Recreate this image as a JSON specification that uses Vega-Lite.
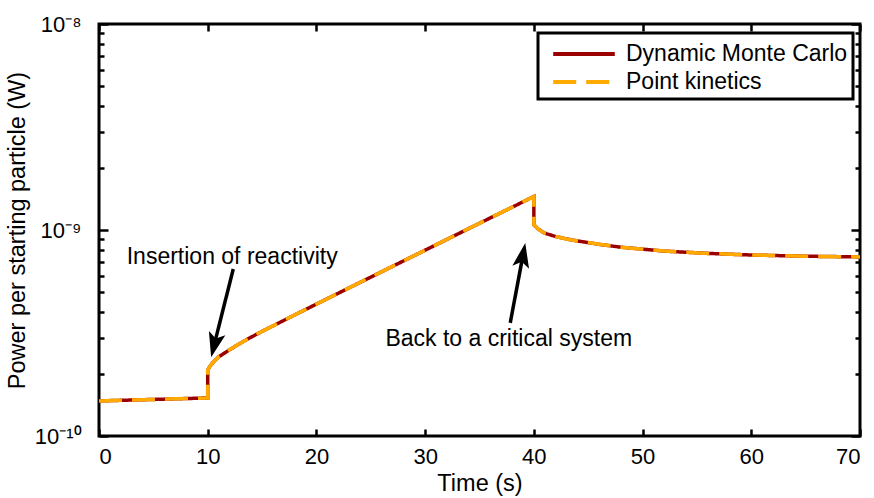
{
  "$schema": "https://vega.github.io/schema/vega-lite/v6.json",
  "autosize": "none",
  "width": 761,
  "height": 412,
  "padding": {"left": 99, "top": 24, "right": 14, "bottom": 62},
  "config": {
    "font": "Liberation Sans",
    "view": {"stroke": "black", "strokeWidth": 3},
    "axis": {"domain": false, "grid": false, "tickColor": "black", "tickWidth": 2.5, "labelFont": "Liberation Sans", "labelFontSize": 22, "labelColor": "black", "titleFont": "Liberation Sans", "titleFontSize": 23.5, "titleFontWeight": "normal", "titleColor": "black"},
    "legend": {"orient": "none", "legendX": 439, "legendY": 9, "title": null, "strokeColor": "black", "strokeWidth": 3, "fillColor": "white", "padding": 5, "labelFont": "Liberation Sans", "labelFontSize": 23, "labelColor": "black", "labelLimit": 400, "symbolType": "M-2.2,0H2.2", "symbolSize": 784, "symbolStrokeWidth": 4, "symbolOffset": 25, "labelOffset": 26, "rowPadding": -2}
  },
  "datasets": {
    "mc": [
      {"i": 0, "t": 0, "p": 1.48e-10, "s": "Dynamic Monte Carlo"},
      {"i": 1, "t": 5, "p": 1.505e-10, "s": "Dynamic Monte Carlo"},
      {"i": 2, "t": 10, "p": 1.53e-10, "s": "Dynamic Monte Carlo"},
      {"i": 3, "t": 10, "p": 2.09e-10, "s": "Dynamic Monte Carlo"},
      {"i": 4, "t": 10.2, "p": 2.18e-10, "s": "Dynamic Monte Carlo"},
      {"i": 5, "t": 10.5, "p": 2.28e-10, "s": "Dynamic Monte Carlo"},
      {"i": 6, "t": 11, "p": 2.42e-10, "s": "Dynamic Monte Carlo"},
      {"i": 7, "t": 12, "p": 2.62e-10, "s": "Dynamic Monte Carlo"},
      {"i": 8, "t": 13, "p": 2.82e-10, "s": "Dynamic Monte Carlo"},
      {"i": 9, "t": 14, "p": 3.02e-10, "s": "Dynamic Monte Carlo"},
      {"i": 10, "t": 15, "p": 3.22e-10, "s": "Dynamic Monte Carlo"},
      {"i": 11, "t": 18, "p": 3.87e-10, "s": "Dynamic Monte Carlo"},
      {"i": 12, "t": 21, "p": 4.64e-10, "s": "Dynamic Monte Carlo"},
      {"i": 13, "t": 24, "p": 5.56e-10, "s": "Dynamic Monte Carlo"},
      {"i": 14, "t": 27, "p": 6.66e-10, "s": "Dynamic Monte Carlo"},
      {"i": 15, "t": 30, "p": 7.98e-10, "s": "Dynamic Monte Carlo"},
      {"i": 16, "t": 33, "p": 9.56e-10, "s": "Dynamic Monte Carlo"},
      {"i": 17, "t": 36, "p": 1.145e-9, "s": "Dynamic Monte Carlo"},
      {"i": 18, "t": 38, "p": 1.29e-9, "s": "Dynamic Monte Carlo"},
      {"i": 19, "t": 40, "p": 1.455e-9, "s": "Dynamic Monte Carlo"},
      {"i": 20, "t": 40, "p": 1.06e-9, "s": "Dynamic Monte Carlo"},
      {"i": 21, "t": 40.4, "p": 1.01e-9, "s": "Dynamic Monte Carlo"},
      {"i": 22, "t": 41, "p": 9.65e-10, "s": "Dynamic Monte Carlo"},
      {"i": 23, "t": 42, "p": 9.3e-10, "s": "Dynamic Monte Carlo"},
      {"i": 24, "t": 43, "p": 9.05e-10, "s": "Dynamic Monte Carlo"},
      {"i": 25, "t": 44, "p": 8.85e-10, "s": "Dynamic Monte Carlo"},
      {"i": 26, "t": 46, "p": 8.52e-10, "s": "Dynamic Monte Carlo"},
      {"i": 27, "t": 48, "p": 8.25e-10, "s": "Dynamic Monte Carlo"},
      {"i": 28, "t": 52, "p": 7.9e-10, "s": "Dynamic Monte Carlo"},
      {"i": 29, "t": 56, "p": 7.7e-10, "s": "Dynamic Monte Carlo"},
      {"i": 30, "t": 60, "p": 7.56e-10, "s": "Dynamic Monte Carlo"},
      {"i": 31, "t": 65, "p": 7.46e-10, "s": "Dynamic Monte Carlo"},
      {"i": 32, "t": 70, "p": 7.4e-10, "s": "Dynamic Monte Carlo"}
    ],
    "pk": [
      {"i": 0, "t": 0, "p": 1.48e-10, "s": "Point kinetics"},
      {"i": 1, "t": 5, "p": 1.505e-10, "s": "Point kinetics"},
      {"i": 2, "t": 10, "p": 1.53e-10, "s": "Point kinetics"},
      {"i": 3, "t": 10, "p": 2.09e-10, "s": "Point kinetics"},
      {"i": 4, "t": 10.2, "p": 2.18e-10, "s": "Point kinetics"},
      {"i": 5, "t": 10.5, "p": 2.28e-10, "s": "Point kinetics"},
      {"i": 6, "t": 11, "p": 2.42e-10, "s": "Point kinetics"},
      {"i": 7, "t": 12, "p": 2.62e-10, "s": "Point kinetics"},
      {"i": 8, "t": 13, "p": 2.82e-10, "s": "Point kinetics"},
      {"i": 9, "t": 14, "p": 3.02e-10, "s": "Point kinetics"},
      {"i": 10, "t": 15, "p": 3.22e-10, "s": "Point kinetics"},
      {"i": 11, "t": 18, "p": 3.87e-10, "s": "Point kinetics"},
      {"i": 12, "t": 21, "p": 4.64e-10, "s": "Point kinetics"},
      {"i": 13, "t": 24, "p": 5.56e-10, "s": "Point kinetics"},
      {"i": 14, "t": 27, "p": 6.66e-10, "s": "Point kinetics"},
      {"i": 15, "t": 30, "p": 7.98e-10, "s": "Point kinetics"},
      {"i": 16, "t": 33, "p": 9.56e-10, "s": "Point kinetics"},
      {"i": 17, "t": 36, "p": 1.145e-9, "s": "Point kinetics"},
      {"i": 18, "t": 38, "p": 1.29e-9, "s": "Point kinetics"},
      {"i": 19, "t": 40, "p": 1.455e-9, "s": "Point kinetics"},
      {"i": 20, "t": 40, "p": 1.06e-9, "s": "Point kinetics"},
      {"i": 21, "t": 40.4, "p": 1.01e-9, "s": "Point kinetics"},
      {"i": 22, "t": 41, "p": 9.65e-10, "s": "Point kinetics"},
      {"i": 23, "t": 42, "p": 9.3e-10, "s": "Point kinetics"},
      {"i": 24, "t": 43, "p": 9.05e-10, "s": "Point kinetics"},
      {"i": 25, "t": 44, "p": 8.85e-10, "s": "Point kinetics"},
      {"i": 26, "t": 46, "p": 8.52e-10, "s": "Point kinetics"},
      {"i": 27, "t": 48, "p": 8.25e-10, "s": "Point kinetics"},
      {"i": 28, "t": 52, "p": 7.9e-10, "s": "Point kinetics"},
      {"i": 29, "t": 56, "p": 7.7e-10, "s": "Point kinetics"},
      {"i": 30, "t": 60, "p": 7.56e-10, "s": "Point kinetics"},
      {"i": 31, "t": 65, "p": 7.46e-10, "s": "Point kinetics"},
      {"i": 32, "t": 70, "p": 7.4e-10, "s": "Point kinetics"}
    ],
    "arrows": [
      {"t1": 12.35, "p1": 6.47e-10, "t2": 10.63, "p2": 2.815e-10},
      {"t1": 37.83, "p1": 3.54e-10, "t2": 38.97, "p2": 7.41e-10}
    ],
    "head1": [{"t": 10.63, "p": 2.815e-10}],
    "head2": [{"t": 38.97, "p": 7.41e-10}],
    "notes": [
      {"t": 12.25, "p": 7.4e-10, "label": "Insertion of reactivity"},
      {"t": 37.69, "p": 2.96e-10, "label": "Back to a critical system"}
    ]
  },
  "layer": [
    {
      "data": {"name": "mc"},
      "mark": {"type": "line", "strokeWidth": 3.5, "clip": true},
      "encoding": {
        "x": {"field": "t", "type": "quantitative", "scale": {"domain": [0, 70], "nice": false, "zero": false},
              "axis": {"orient": "bottom", "title": "Time (s)", "values": [0, 10, 20, 30, 40, 50, 60, 70], "tickSize": -7, "labelPadding": 17, "titlePadding": 4}},
        "y": {"field": "p", "type": "quantitative", "scale": {"type": "log", "domain": [1e-10, 1e-8], "nice": false, "zero": false},
              "axis": {"orient": "left", "title": "Power per starting particle (W)",
                       "values": [1e-10, 2e-10, 3e-10, 4e-10, 5e-10, 6e-10, 7e-10, 8e-10, 9e-10, 1e-9, 2e-9, 3e-9, 4e-9, 5e-9, 6e-9, 7e-9, 8e-9, 9e-9, 1e-8],
                       "labelExpr": "datum.value < 1.5e-10 ? '10⁻¹⁰' : (abs(datum.value - 1e-9) < 1e-12 ? '10⁻⁹' : (datum.value > 9.5e-9 ? '10⁻⁸' : ''))",
                       "tickSize": {"condition": {"test": "abs(log(datum.value)/LN10 - round(log(datum.value)/LN10)) < 1e-6", "value": -9}, "value": -5},
                       "labelPadding": 27, "titlePadding": 5}},
        "color": {"field": "s", "type": "nominal", "scale": {"domain": ["Dynamic Monte Carlo", "Point kinetics"], "range": ["#9B0000", "#FFAA00"]}},
        "strokeDash": {"field": "s", "type": "nominal", "scale": {"domain": ["Dynamic Monte Carlo", "Point kinetics"], "range": [[1, 0], [23, 10]]}},
        "order": {"field": "i", "type": "quantitative"}
      }
    },
    {
      "data": {"name": "pk"},
      "mark": {"type": "line", "strokeWidth": 3.5, "clip": true},
      "encoding": {
        "x": {"field": "t", "type": "quantitative", "scale": {"domain": [0, 70], "nice": false, "zero": false},
              "axis": {"orient": "top", "title": null, "labels": false, "values": [0, 10, 20, 30, 40, 50, 60, 70], "tickSize": -7}},
        "y": {"field": "p", "type": "quantitative", "scale": {"type": "log", "domain": [1e-10, 1e-8], "nice": false, "zero": false},
              "axis": {"orient": "right", "title": null, "labels": false,
                       "values": [1e-10, 2e-10, 3e-10, 4e-10, 5e-10, 6e-10, 7e-10, 8e-10, 9e-10, 1e-9, 2e-9, 3e-9, 4e-9, 5e-9, 6e-9, 7e-9, 8e-9, 9e-9, 1e-8],
                       "tickSize": {"condition": {"test": "abs(log(datum.value)/LN10 - round(log(datum.value)/LN10)) < 1e-6", "value": -9}, "value": -5}}},
        "color": {"field": "s", "type": "nominal", "scale": {"domain": ["Dynamic Monte Carlo", "Point kinetics"], "range": ["#9B0000", "#FFAA00"]}},
        "strokeDash": {"field": "s", "type": "nominal", "scale": {"domain": ["Dynamic Monte Carlo", "Point kinetics"], "range": [[1, 0], [23, 10]]}},
        "order": {"field": "i", "type": "quantitative"}
      }
    },
    {
      "data": {"name": "arrows"},
      "mark": {"type": "rule", "color": "black", "strokeWidth": 3.5},
      "encoding": {
        "x": {"field": "t1", "type": "quantitative", "scale": {"domain": [0, 70], "nice": false, "zero": false}, "axis": null},
        "y": {"field": "p1", "type": "quantitative", "scale": {"type": "log", "domain": [1e-10, 1e-8], "nice": false, "zero": false}, "axis": null},
        "x2": {"field": "t2"},
        "y2": {"field": "p2"}
      }
    },
    {
      "data": {"name": "head1"},
      "mark": {"type": "point", "shape": "M0,-1L0.6,0.75L0,0.35L-0.6,0.75Z", "filled": true, "color": "black", "opacity": 1, "size": 800, "angle": 194},
      "encoding": {
        "x": {"field": "t", "type": "quantitative", "scale": {"domain": [0, 70], "nice": false, "zero": false}, "axis": null},
        "y": {"field": "p", "type": "quantitative", "scale": {"type": "log", "domain": [1e-10, 1e-8], "nice": false, "zero": false}, "axis": null}
      }
    },
    {
      "data": {"name": "head2"},
      "mark": {"type": "point", "shape": "M0,-1L0.6,0.75L0,0.35L-0.6,0.75Z", "filled": true, "color": "black", "opacity": 1, "size": 800, "angle": 10.6},
      "encoding": {
        "x": {"field": "t", "type": "quantitative", "scale": {"domain": [0, 70], "nice": false, "zero": false}, "axis": null},
        "y": {"field": "p", "type": "quantitative", "scale": {"type": "log", "domain": [1e-10, 1e-8], "nice": false, "zero": false}, "axis": null}
      }
    },
    {
      "data": {"name": "notes"},
      "mark": {"type": "text", "font": "Liberation Sans", "fontSize": 23, "color": "black", "align": "center", "baseline": "middle"},
      "encoding": {
        "x": {"field": "t", "type": "quantitative", "scale": {"domain": [0, 70], "nice": false, "zero": false}, "axis": null},
        "y": {"field": "p", "type": "quantitative", "scale": {"type": "log", "domain": [1e-10, 1e-8], "nice": false, "zero": false}, "axis": null},
        "text": {"field": "label"}
      }
    }
  ],
  "resolve": {"axis": {"x": "independent", "y": "independent"}}
}
